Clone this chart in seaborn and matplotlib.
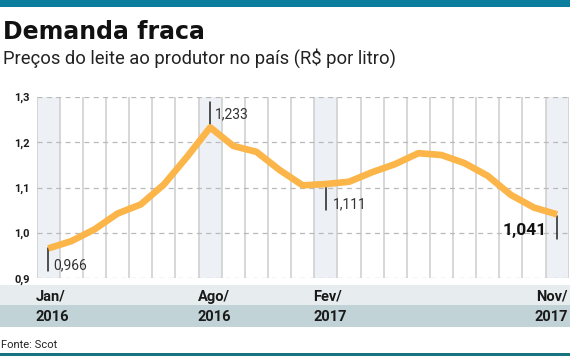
import matplotlib
matplotlib.use("Agg")
import matplotlib.pyplot as plt
import seaborn as sns
import pandas as pd
from matplotlib import font_manager
from matplotlib.patches import Rectangle
from matplotlib.transforms import blended_transform_factory

# ---- data ----
months = ["Jan/16", "Fev/16", "Mar/16", "Abr/16", "Mai/16", "Jun/16", "Jul/16",
          "Ago/16", "Set/16", "Out/16", "Nov/16", "Dez/16", "Fev/17", "Mar/17",
          "Abr/17", "Mai/17", "Jun/17", "Jul/17", "Ago/17", "Set/17", "Out/17",
          "Nov/17b", "Nov/17"]
prices = [0.966, 0.982, 1.008, 1.043, 1.063, 1.107, 1.168, 1.233, 1.192, 1.179,
          1.139, 1.105, 1.108, 1.113, 1.134, 1.152, 1.176, 1.172, 1.154, 1.126,
          1.084, 1.056, 1.041]
highlight_idx = [0, 7, 12, 22]
x_month_labels = ["Jan/", "Ago/", "Fev/", "Nov/"]
x_year_labels = ["2016", "2016", "2017", "2017"]
y_ticks = [0.9, 1.0, 1.1, 1.2, 1.3]
y_tick_labels = ["0,9", "1,0", "1,1", "1,2", "1,3"]
callout_idx = [0, 7, 12, 22]
callout_text = ["0,966", "1,233", "1,111", "1,041"]

title = "Demanda fraca"
subtitle = "Preços do leite ao produtor no país (R$ por litro)"
source = "Fonte: Scot"

# ---- fonts ----
names = {f.name for f in font_manager.fontManager.ttflist}
narrow = "Liberation Sans Narrow" if "Liberation Sans Narrow" in names else "Roboto"

sns.set_theme(style="white")
plt.rcParams["font.family"] = ["DejaVu Sans"]

df = pd.DataFrame({"i": range(len(prices)), "price": prices})

fig = plt.figure(figsize=(5.70, 3.56), dpi=100)
ax = fig.add_axes([36.7 / 570, 1 - 278.3 / 356, 532.0 / 570, (278.3 - 97) / 356])

# highlighted columns
for i in highlight_idx:
    ax.axvspan(i - 0.5, i + 0.5, color="#edf1f5", zorder=0, lw=0)
# vertical column borders
for b in range(len(prices) + 1):
    ax.axvline(b - 0.5, color="#cdcdcd", lw=1.1, zorder=1)
# horizontal dashed grid
for v in y_ticks:
    ax.axhline(v, color="#b9b9b9", lw=0.9, ls=(0, (4, 3.5)), zorder=1)

# callout ticks
tick_spans = [(0.966, 0.916), (1.233, 1.288), (1.104, 1.051), (1.037, 0.987)]
for i, (a, b) in zip(callout_idx, tick_spans):
    ax.plot([i, i], [a, b], color="#222222", lw=1.1, zorder=2)

sns.lineplot(data=df, x="i", y="price", ax=ax, color="#fbb549", lw=4.8,
             zorder=3, solid_capstyle="butt", solid_joinstyle="round")

ax.set_xlim(-0.5, len(prices) - 0.5)
ax.set_ylim(0.9, 1.3)
ax.set_yticks(y_ticks)
ax.set_yticklabels(y_tick_labels, fontfamily=narrow, fontweight="bold",
                   fontsize=8, color="#1a1a1a")
ax.tick_params(axis="y", length=0, pad=5)
ax.set_xticks([])
ax.set_xlabel("")
ax.set_ylabel("")
for s in ax.spines.values():
    s.set_visible(False)
ax.patch.set_alpha(0)

# callout labels
ax.text(0.22, 0.929, callout_text[0], fontfamily=narrow,
        fontsize=10, color="#333333", va="center", ha="left")
ax.text(7.2, 1.262, callout_text[1], fontfamily=narrow,
        fontsize=10, color="#333333", va="center", ha="left")
ax.text(12.29, 1.064, callout_text[2], fontfamily=narrow,
        fontsize=10, color="#333333", va="center", ha="left")
ax.text(21.54, 1.005, callout_text[3], fontfamily=narrow, fontsize=12.5,
        fontweight="bold", color="#111111", va="center", ha="right")

# bands below chart
fig.add_artist(Rectangle((0, 1 - 305 / 356), 1, 20 / 356, transform=fig.transFigure,
                         color="#e7edef", lw=0, zorder=0))
fig.add_artist(Rectangle((0, 1 - 327 / 356), 1, 22 / 356, transform=fig.transFigure,
                         color="#c2d3d7", lw=0, zorder=0))
# top and bottom rules
fig.add_artist(Rectangle((0, 1 - 6.7 / 356), 1, 6.7 / 356, transform=fig.transFigure,
                         color="#0b7e9e", lw=0, zorder=0))
fig.add_artist(Rectangle((0, 0), 1, 3.5 / 356, transform=fig.transFigure,
                         color="#17737f", lw=0, zorder=0))

tr = blended_transform_factory(ax.transData, fig.transFigure)
for k, (i, m, yr) in enumerate(zip(highlight_idx, x_month_labels, x_year_labels)):
    if k == len(highlight_idx) - 1:
        xpos, ha = i + 0.46, "right"
    else:
        xpos, ha = i - 0.55, "left"
    fig.text(xpos, 1 - 296.7 / 356, m, transform=tr, ha=ha, va="center",
             fontfamily=narrow, fontweight="bold", fontsize=10.5, color="#1a1a1a")
    fig.text(xpos, 1 - 316.7 / 356, yr, transform=tr, ha=ha, va="center",
             fontfamily=narrow, fontweight="bold", fontsize=10.5, color="#1a1a1a")

fig.text(3 / 570, 1 - 39.3 / 356, title, fontfamily="DejaVu Sans", fontweight="bold",
         fontsize=17, color="#111111", va="baseline", ha="left")
fig.text(3 / 570, 1 - 63.3 / 356, subtitle, fontfamily=narrow,
         fontsize=13.2, color="#222222", va="baseline", ha="left")
fig.text(1 / 570, 1 - 345 / 356, source, fontfamily=narrow, fontsize=8,
         color="#222222", va="center", ha="left")

fig.savefig("out.png", dpi=100)
